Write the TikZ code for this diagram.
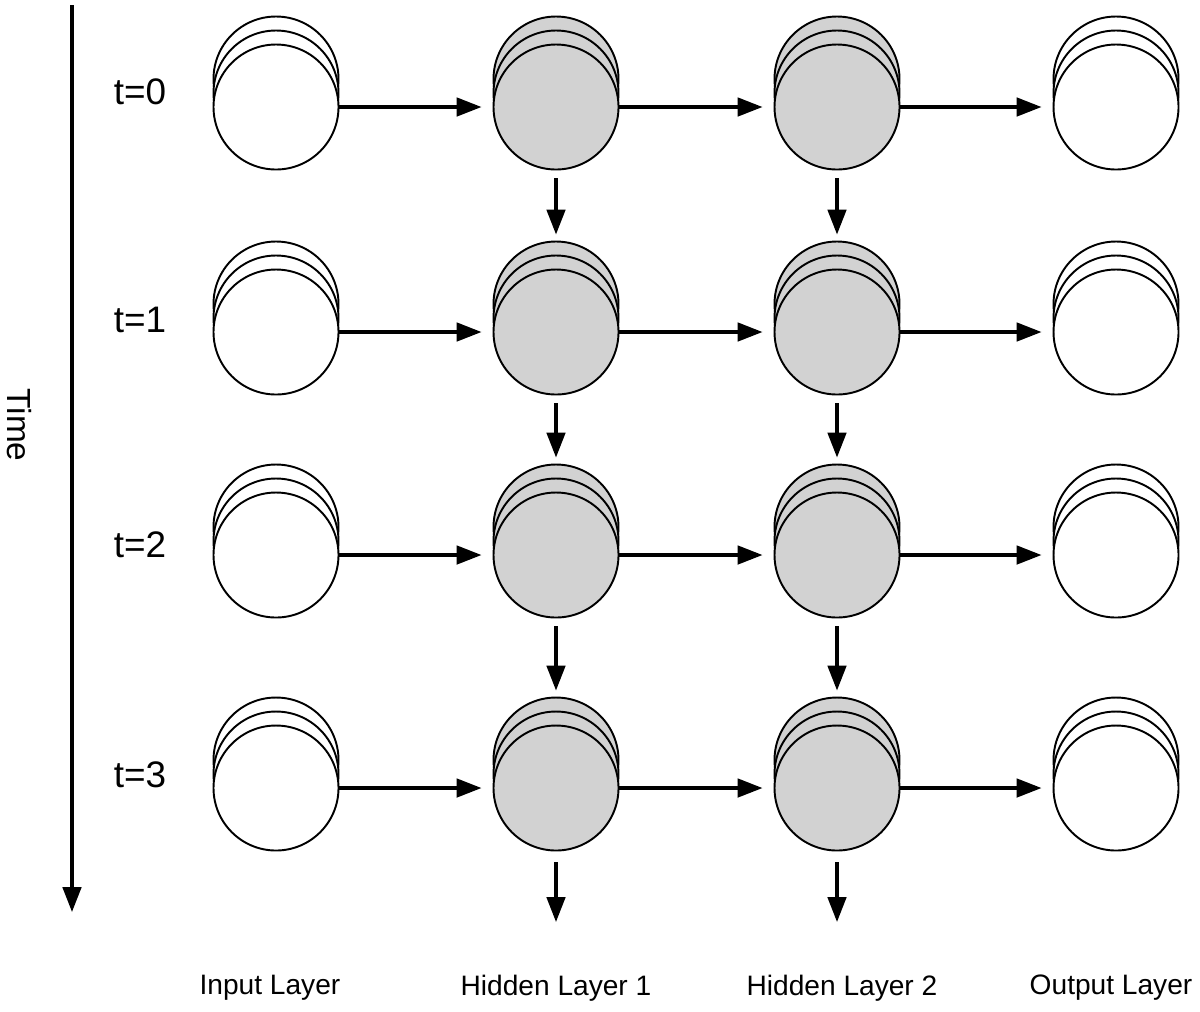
\documentclass[tikz,border=0pt]{standalone}
\usepackage{fontspec}
\setmainfont{Liberation Sans}
\usetikzlibrary{arrows.meta, shadows}

\tikzset{
	layerNode/.style={circle, draw=black, line width=1.1pt, minimum size=2.5cm, inner sep=0pt,
		copy shadow={shadow xshift=0pt, shadow yshift=0.56cm},
		copy shadow={shadow xshift=0pt, shadow yshift=0.28cm}},
	openNode/.style={layerNode, fill=white},
	hiddenNode/.style={layerNode, fill=gray!35},
	flow/.style={-{Triangle[length=0.5cm, width=0.37cm]}, line width=1.9pt},
	timeLabel/.style={font=\fontsize{21}{24}\selectfont},
	layerLabel/.style={font=\fontsize{16}{19}\selectfont}
}

\begin{document}
\begin{tikzpicture}
	\useasboundingbox (0,0) rectangle (24,-20.22);

	% time axis
	\coordinate(timeTop) at (1.44,-0.1);
	\coordinate(timeBottom) at (1.44,-18.24);
	\draw[flow] (timeTop) -- (timeBottom);
	\node[rotate=-90, inner sep=0pt, font=\fontsize{19}{22}\selectfont](timeText) at (0.38,-8.5){Time};

	% draw t=0 row
	\node[timeLabel](t0Label) at (2.8,-1.84){t=0};
	\node[openNode](inputT0) at (5.52,-2.14){};
	\node[hiddenNode](hiddenOneT0) at (11.12,-2.14){};
	\node[hiddenNode](hiddenTwoT0) at (16.74,-2.14){};
	\node[openNode](outputT0) at (22.32,-2.14){};

	% draw t=1 row
	\node[timeLabel](t1Label) at (2.8,-6.4){t=1};
	\node[openNode](inputT1) at (5.52,-6.64){};
	\node[hiddenNode](hiddenOneT1) at (11.12,-6.64){};
	\node[hiddenNode](hiddenTwoT1) at (16.74,-6.64){};
	\node[openNode](outputT1) at (22.32,-6.64){};

	% draw t=2 row
	\node[timeLabel](t2Label) at (2.8,-10.9){t=2};
	\node[openNode](inputT2) at (5.52,-11.1){};
	\node[hiddenNode](hiddenOneT2) at (11.12,-11.1){};
	\node[hiddenNode](hiddenTwoT2) at (16.74,-11.1){};
	\node[openNode](outputT2) at (22.32,-11.1){};

	% draw t=3 row
	\node[timeLabel](t3Label) at (2.8,-15.5){t=3};
	\node[openNode](inputT3) at (5.52,-15.76){};
	\node[hiddenNode](hiddenOneT3) at (11.12,-15.76){};
	\node[hiddenNode](hiddenTwoT3) at (16.74,-15.76){};
	\node[openNode](outputT3) at (22.32,-15.76){};

	% arrows between layers
	\foreach \t in {0,1,2,3}{
		\draw[flow, shorten >=0.22cm] (inputT\t.east) -- (hiddenOneT\t.west);
		\draw[flow, shorten >=0.22cm] (hiddenOneT\t.east) -- (hiddenTwoT\t.west);
		\draw[flow, shorten >=0.22cm] (hiddenTwoT\t.east) -- (outputT\t.west);
	}

	% arrows through time
	\foreach \t/\n in {0/1,1/2,2/3}{
		\draw[flow, shorten <=0.16cm, shorten >=0.12cm] (hiddenOneT\t.south) -- ([yshift=0.56cm]hiddenOneT\n.north);
		\draw[flow, shorten <=0.16cm, shorten >=0.12cm] (hiddenTwoT\t.south) -- ([yshift=0.56cm]hiddenTwoT\n.north);
	}
	\coordinate(hiddenOneEnd) at (11.12,-18.44);
	\coordinate(hiddenTwoEnd) at (16.74,-18.44);
	\draw[flow, shorten <=0.22cm] (hiddenOneT3.south) -- (hiddenOneEnd);
	\draw[flow, shorten <=0.22cm] (hiddenTwoT3.south) -- (hiddenTwoEnd);

	% layer names
	\node[layerLabel](inputText) at (5.4,-19.76){Input Layer};
	\node[layerLabel](hiddenOneText) at (11.12,-19.76){Hidden Layer 1};
	\node[layerLabel](hiddenTwoText) at (16.84,-19.76){Hidden Layer 2};
	\node[layerLabel](outputText) at (22.22,-19.76){Output Layer};
\end{tikzpicture}
\end{document}
